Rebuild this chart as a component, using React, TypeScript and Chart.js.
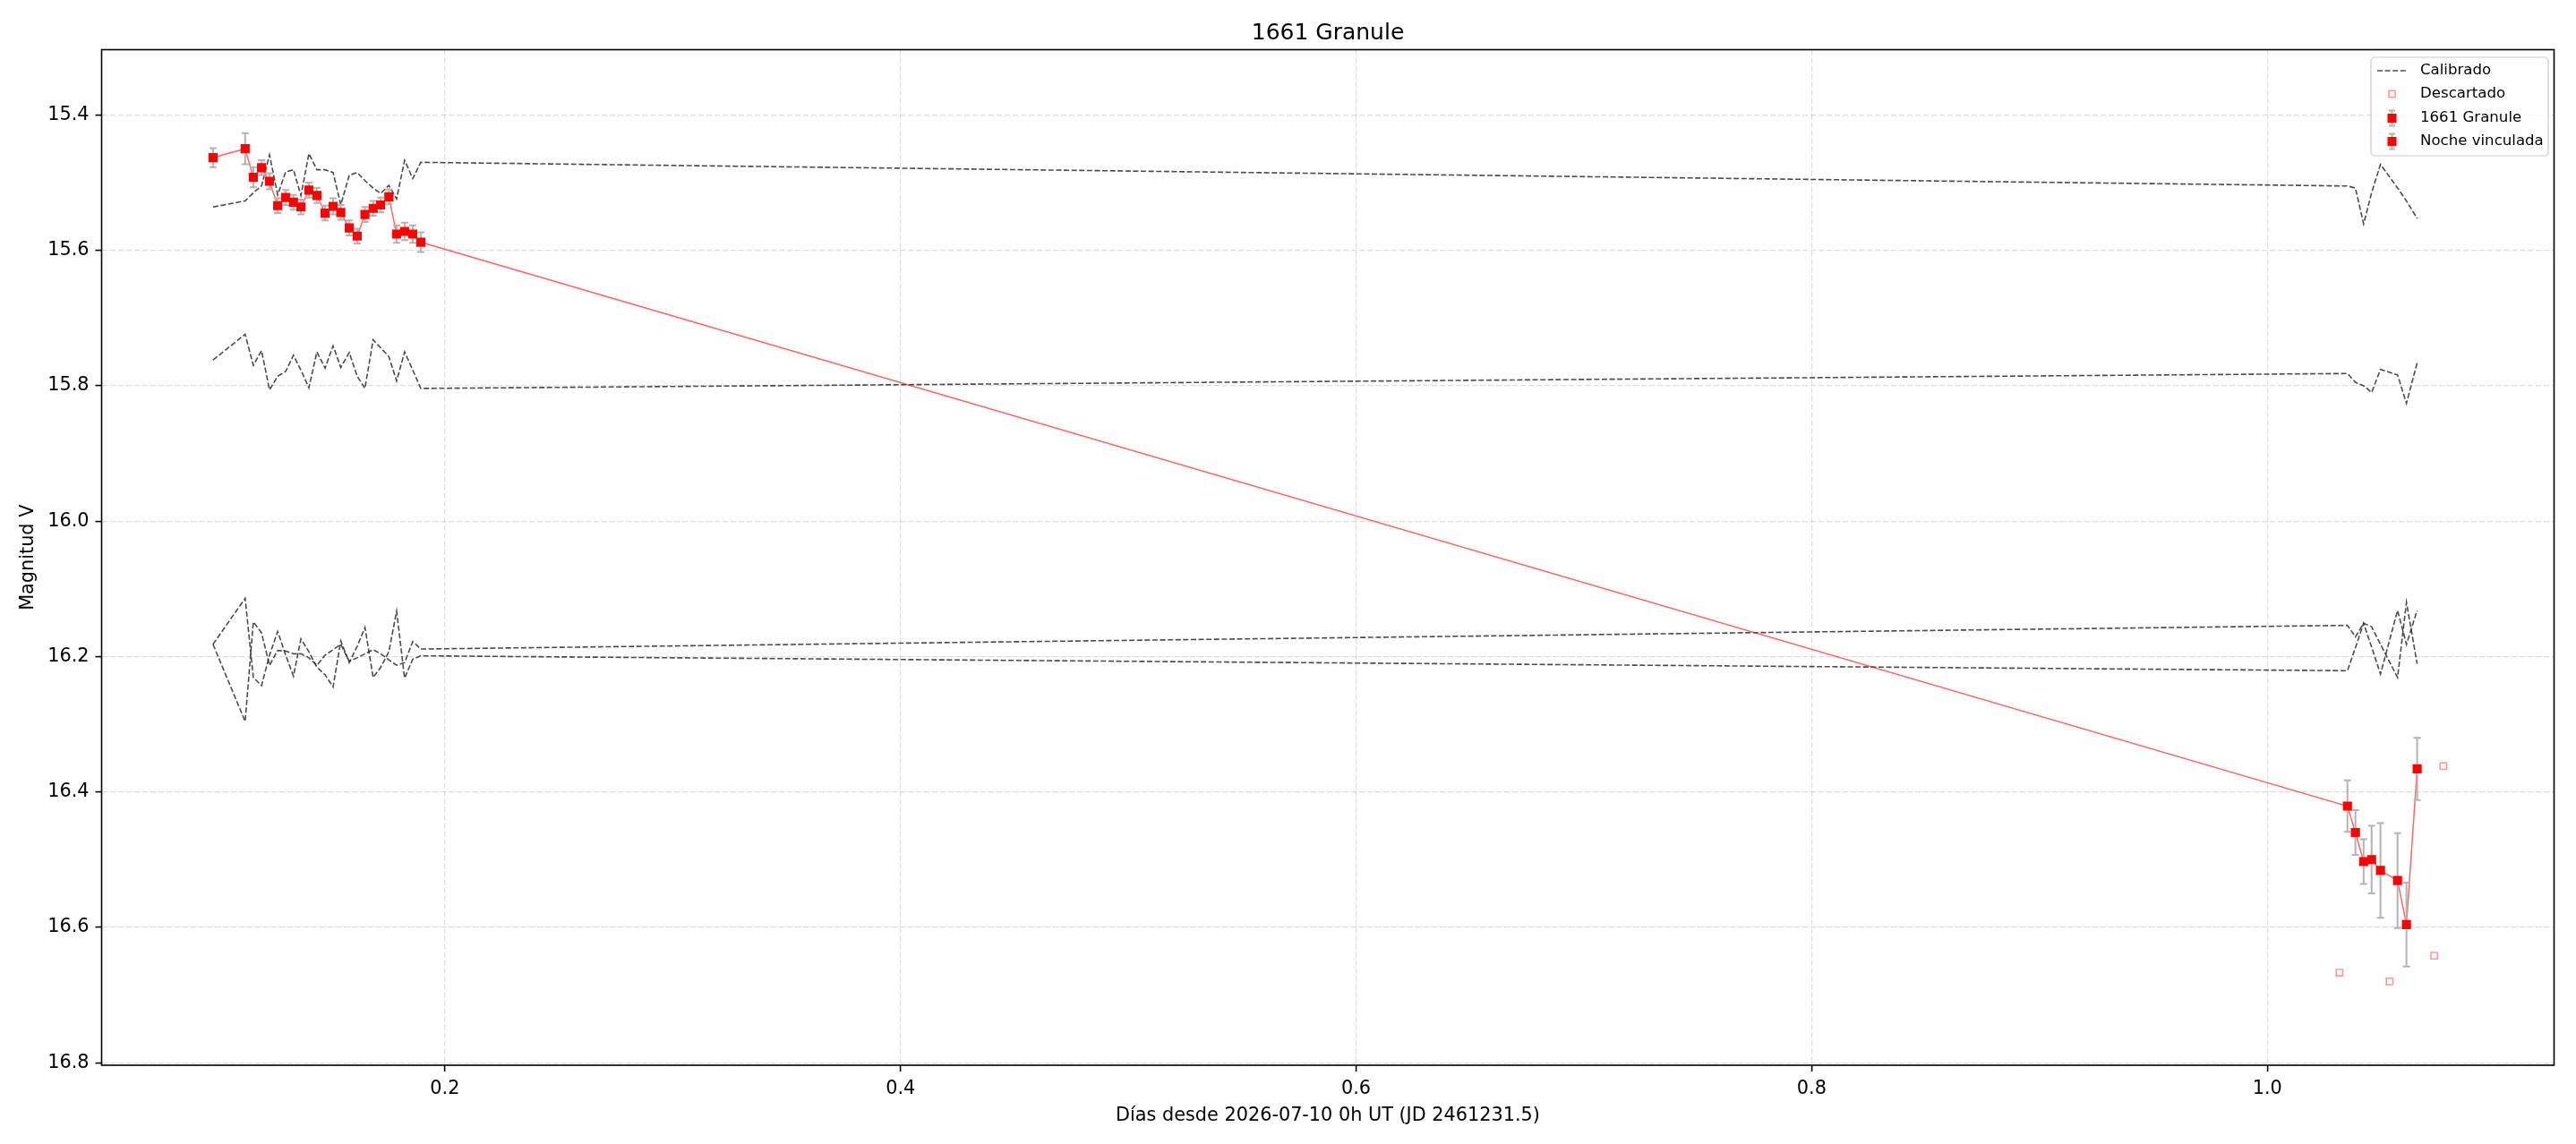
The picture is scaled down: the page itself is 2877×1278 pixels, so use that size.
import React, { useEffect, useRef } from "react";
import { Chart, registerables } from "chart.js";

Chart.register(...registerables);

// ---------------- data ----------------
const TITLE = "1661 Granule";
const X_LABEL = "Días desde 2026-07-10 0h UT (JD 2461231.5)";
const Y_LABEL = "Magnitud V";

const X_TICKS = [0.2, 0.4, 0.6, 0.8, 1.0];
const Y_TICKS = [15.4, 15.6, 15.8, 16.0, 16.2, 16.4, 16.6, 16.8];

// night 1 (target)
const X_N1 = [0.0982, 0.1123, 0.1159, 0.1195, 0.123, 0.1266, 0.1301, 0.1335, 0.1368, 0.1403, 0.1438, 0.1474, 0.1509, 0.1543, 0.158, 0.1615, 0.1649, 0.1685, 0.1718, 0.1754, 0.1788, 0.1823, 0.1859, 0.1894];
const MAG_N1 = [15.463, 15.45, 15.492, 15.478, 15.498, 15.534, 15.522, 15.529, 15.536, 15.511, 15.519, 15.545, 15.535, 15.544, 15.567, 15.579, 15.547, 15.538, 15.533, 15.521, 15.576, 15.572, 15.576, 15.588];
const ERR_N1 = [0.014, 0.023, 0.015, 0.011, 0.012, 0.011, 0.011, 0.011, 0.011, 0.011, 0.011, 0.011, 0.012, 0.011, 0.011, 0.011, 0.011, 0.011, 0.011, 0.011, 0.013, 0.013, 0.013, 0.0145];

// night 2 (linked night)
const X_N2 = [1.0352, 1.0387, 1.0423, 1.0458, 1.0497, 1.0572, 1.0611, 1.0658];
const MAG_N2 = [16.421, 16.46, 16.503, 16.5, 16.516, 16.531, 16.596, 16.366];
const ERR_N2 = [0.038, 0.033, 0.033, 0.05, 0.07, 0.07, 0.062, 0.046];

// discarded points
const X_DISC = [1.0317, 1.0537, 1.0733, 1.0773];
const MAG_DISC = [16.667, 16.68, 16.642, 16.362];

// calibrated comparison stars (same epochs as night 1 + night 2)
const CAL_1 = [15.536, 15.527, 15.515, 15.505, 15.459, 15.518, 15.484, 15.481, 15.519, 15.457, 15.481, 15.481, 15.485, 15.533, 15.489, 15.485, 15.497, 15.508, 15.516, 15.504, 15.524, 15.467, 15.494, 15.47,
  15.505, 15.508, 15.561, 15.515, 15.473, 15.508, 15.527, 15.553];
const CAL_2 = [15.762, 15.724, 15.77, 15.748, 15.806, 15.786, 15.779, 15.755, 15.777, 15.803, 15.75, 15.774, 15.741, 15.773, 15.751, 15.786, 15.804, 15.732, 15.744, 15.757, 15.793, 15.75, 15.777, 15.804,
  15.782, 15.795, 15.8, 15.81, 15.776, 15.784, 15.826, 15.766];
const CAL_3 = [16.182, 16.114, 16.231, 16.243, 16.198, 16.163, 16.198, 16.229, 16.174, 16.193, 16.216, 16.227, 16.245, 16.177, 16.209, 16.185, 16.157, 16.231, 16.216, 16.193, 16.133, 16.232, 16.204, 16.199,
  16.221, 16.187, 16.151, 16.186, 16.226, 16.132, 16.182, 16.132];
const CAL_4 = [16.182, 16.296, 16.149, 16.165, 16.213, 16.191, 16.192, 16.196, 16.196, 16.202, 16.213, 16.198, 16.19, 16.182, 16.207, 16.202, 16.196, 16.19, 16.196, 16.205, 16.213, 16.209, 16.178, 16.189,
  16.154, 16.171, 16.151, 16.156, 16.182, 16.231, 16.12, 16.211];

const LEGEND_LABELS = ["Calibrado", "Descartado", "1661 Granule", "Noche vinculada"];

// ---------------- layout / style ----------------
const W = 2877;
const H = 1278;
const AREA = { left: 113.5, top: 55.5, right: 2852.5, bottom: 1190 };
const X_MIN = 0.0493;
const X_MAX = 1.1259;
const Y_MIN = 15.3036;
const Y_MAX = 16.8038;
const FONT = "'DejaVu Sans', 'Liberation Sans', sans-serif";
const ERR_COLOR = "#b3b3b3";
const RED = "#ff0000";
const LINE_RED = "rgba(255,0,0,0.6)";
const DISC_COLOR = "rgba(255,0,0,0.4)";
const CAL_COLOR = "rgba(30,30,30,0.8)";

const pts = (xs: number[], ys: number[]) => xs.map((x, i) => ({ x, y: ys[i] }));
const ALL_X = [...X_N1, ...X_N2];

const ERRORS: Record<string, number[]> = {
  "1661 Granule": ERR_N1,
  "Noche vinculada": ERR_N2,
};

const errorBarPlugin = {
  id: "errorBars",
  beforeDatasetDraw(chart: any, args: any) {
    const ds = chart.data.datasets[args.index];
    const errs = ERRORS[ds.label];
    if (!errs) return;
    const { ctx, chartArea, scales } = chart;
    const xs = scales.x;
    const ys = scales.y;
    ctx.save();
    ctx.beginPath();
    ctx.rect(chartArea.left, chartArea.top, chartArea.right - chartArea.left, chartArea.bottom - chartArea.top);
    ctx.clip();
    ctx.strokeStyle = ERR_COLOR;
    ctx.lineWidth = 2;
    ds.data.forEach((p: any, i: number) => {
      const px = xs.getPixelForValue(p.x);
      const y1 = ys.getPixelForValue(p.y - errs[i]);
      const y2 = ys.getPixelForValue(p.y + errs[i]);
      ctx.beginPath();
      ctx.moveTo(px, y1);
      ctx.lineTo(px, y2);
      ctx.moveTo(px - 4, y1);
      ctx.lineTo(px + 4, y1);
      ctx.moveTo(px - 4, y2);
      ctx.lineTo(px + 4, y2);
      ctx.stroke();
    });
    ctx.restore();
  },
};

const framePlugin = {
  id: "frameTitleLegend",
  afterDatasetsDraw(chart: any) {
    const { ctx, chartArea } = chart;
    ctx.save();
    ctx.strokeStyle = "#000";
    ctx.lineWidth = 1.6;
    ctx.strokeRect(chartArea.left, chartArea.top, chartArea.right - chartArea.left, chartArea.bottom - chartArea.top);
    ctx.restore();
  },
  afterDraw(chart: any) {
    const { ctx, chartArea } = chart;
    ctx.save();
    // title
    ctx.fillStyle = "#000";
    ctx.font = `25px ${FONT}`;
    ctx.textAlign = "center";
    ctx.textBaseline = "alphabetic";
    ctx.fillText(TITLE, (chartArea.left + chartArea.right) / 2, 44);

    // legend
    const bx = 2648, by = 64, bw = 198, bh = 110;
    ctx.beginPath();
    (ctx as any).roundRect(bx, by, bw, bh, 4);
    ctx.fillStyle = "rgba(255,255,255,0.8)";
    ctx.fill();
    ctx.strokeStyle = "#cccccc";
    ctx.lineWidth = 1.2;
    ctx.stroke();

    const rows = [79, 105, 132, 158];
    const hx = 2671.5;
    // Calibrado: dashed line
    ctx.beginPath();
    ctx.setLineDash([6, 2.6]);
    ctx.strokeStyle = CAL_COLOR;
    ctx.lineWidth = 1.6;
    ctx.moveTo(2655, rows[0]);
    ctx.lineTo(2689, rows[0]);
    ctx.stroke();
    ctx.setLineDash([]);
    // Descartado: hollow square
    ctx.strokeStyle = DISC_COLOR;
    ctx.lineWidth = 1.6;
    ctx.strokeRect(hx - 3.6, rows[1] - 3.6, 7.2, 7.2);
    // error bar markers
    [rows[2], rows[3]].forEach((ry) => {
      ctx.strokeStyle = ERR_COLOR;
      ctx.lineWidth = 2;
      ctx.beginPath();
      ctx.moveTo(hx, ry - 8.5);
      ctx.lineTo(hx, ry + 8.5);
      ctx.moveTo(hx - 3.5, ry - 8.5);
      ctx.lineTo(hx + 3.5, ry - 8.5);
      ctx.moveTo(hx - 3.5, ry + 8.5);
      ctx.lineTo(hx + 3.5, ry + 8.5);
      ctx.stroke();
      ctx.fillStyle = RED;
      ctx.fillRect(hx - 5, ry - 5, 10, 10);
    });
    ctx.fillStyle = "#000";
    ctx.font = `16.6px ${FONT}`;
    ctx.textAlign = "left";
    ctx.textBaseline = "middle";
    LEGEND_LABELS.forEach((t, i) => ctx.fillText(t, 2703, rows[i]));
    ctx.restore();
  },
};

export default function App() {
  const ref = useRef<HTMLCanvasElement>(null);

  useEffect(() => {
    const calDs = [CAL_1, CAL_2, CAL_3, CAL_4].map((c, i) => ({
      label: i === 0 ? "Calibrado" : `Calibrado ${i + 1}`,
      data: pts(ALL_X, c),
      showLine: true,
      borderColor: CAL_COLOR,
      borderWidth: 1.6,
      borderDash: [6, 2.6],
      pointRadius: 0,
      fill: false,
      tension: 0,
      order: 4,
    }));

    const chart = new Chart(ref.current as HTMLCanvasElement, {
      type: "scatter",
      data: {
        datasets: [
          {
            label: "1661 Granule",
            data: pts(X_N1, MAG_N1),
            pointStyle: "rect",
            pointRadius: 7.2,
            borderWidth: 0,
            backgroundColor: RED,
            borderColor: RED,
            showLine: false,
            order: 0,
          },
          {
            label: "Noche vinculada",
            data: pts(X_N2, MAG_N2),
            pointStyle: "rect",
            pointRadius: 7.2,
            borderWidth: 0,
            backgroundColor: RED,
            borderColor: RED,
            showLine: false,
            order: 0,
          },
          {
            label: "line",
            data: pts(ALL_X, [...MAG_N1, ...MAG_N2]),
            showLine: true,
            borderColor: LINE_RED,
            borderWidth: 1.5,
            pointRadius: 0,
            tension: 0,
            order: 1,
          },
          {
            label: "Descartado",
            data: pts(X_DISC, MAG_DISC),
            pointStyle: "rect",
            pointRadius: 5.1,
            borderWidth: 1.6,
            borderColor: DISC_COLOR,
            backgroundColor: "rgba(0,0,0,0)",
            showLine: false,
            order: 2,
          },
          ...calDs,
        ] as any,
      },
      options: {
        responsive: false,
        animation: false,
        devicePixelRatio: 1,
        layout: {
          padding: { left: 0, top: AREA.top, right: W - AREA.right, bottom: 0 },
        },
        plugins: {
          legend: { display: false },
          title: { display: false },
          tooltip: { enabled: false },
        },
        scales: {
          x: {
            type: "linear",
            min: X_MIN,
            max: X_MAX,
            afterBuildTicks: (s: any) => {
              s.ticks = X_TICKS.map((v) => ({ value: v }));
            },
            afterFit: (s: any) => {
              s.height = H - AREA.bottom;
            },
            ticks: {
              callback: (v: any) => Number(v).toFixed(1),
              font: { family: FONT, size: 20.8 },
              color: "#000",
              padding: 7,
              maxRotation: 0,
              autoSkip: false,
            },
            grid: {
              color: "rgba(0,0,0,0.13)",
              lineWidth: 1.2,
              drawTicks: true,
              tickLength: 7,
              tickColor: "#000",
              tickWidth: 1.6,
            },
            border: { display: false, dash: [6.3, 2.7] },
            title: {
              display: true,
              text: X_LABEL,
              font: { family: FONT, size: 20.8 },
              color: "#000",
              padding: { top: 0, bottom: 19.2 },
            },
          },
          y: {
            type: "linear",
            reverse: true,
            min: Y_MIN,
            max: Y_MAX,
            afterBuildTicks: (s: any) => {
              s.ticks = Y_TICKS.map((v) => ({ value: v }));
            },
            afterFit: (s: any) => {
              s.width = AREA.left;
            },
            ticks: {
              callback: (v: any) => Number(v).toFixed(1),
              font: { family: FONT, size: 20.8 },
              color: "#000",
              padding: 7,
              autoSkip: false,
            },
            grid: {
              color: "rgba(0,0,0,0.13)",
              lineWidth: 1.2,
              drawTicks: true,
              tickLength: 7,
              tickColor: "#000",
              tickWidth: 1.6,
            },
            border: { display: false, dash: [6.3, 2.7] },
            title: {
              display: true,
              text: Y_LABEL,
              font: { family: FONT, size: 20.8 },
              color: "#000",
              padding: { top: 19.1, bottom: 0 },
            },
          },
        },
      } as any,
      plugins: [errorBarPlugin, framePlugin],
    });
    return () => chart.destroy();
  }, []);

  return (
    <div style={{ position: "fixed", left: 0, top: 0, width: W, height: H, background: "#fff" }}>
      <canvas ref={ref} width={W} height={H} style={{ display: "block", width: W, height: H }} />
    </div>
  );
}
